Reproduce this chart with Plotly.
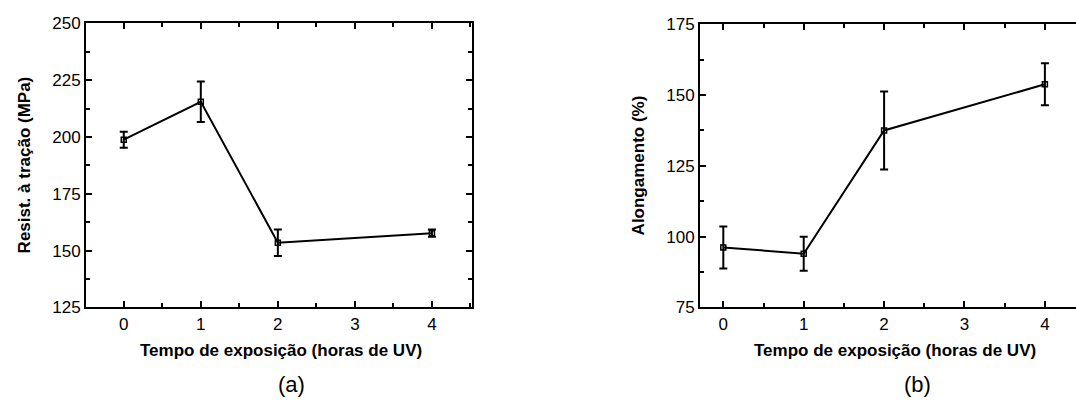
import plotly.graph_objects as go

# Data
hours = [0, 1, 2, 4]
tensile = [198.8, 215.5, 153.5, 157.7]
tensile_err = [3.5, 8.9, 5.8, 1.6]
elong = [96.2, 94.0, 137.5, 153.8]
elong_err = [7.4, 6.0, 13.8, 7.4]

x_title = "Tempo de exposição (horas de UV)"
y1_title = "Resist. à tração (MPa)"
y2_title = "Alongamento (%)"

FONT = "Liberation Sans, Arial, sans-serif"
W, H = 1076, 410

def px_x(p):
    return p / W

def px_y(p):
    return 1 - p / H

fig = go.Figure()

common_trace = dict(
    mode="lines+markers",
    line=dict(color="black", width=2),
    marker=dict(symbol="square-open", size=5, color="black", line=dict(width=1.5, color="black")),
    showlegend=False,
)

fig.add_trace(go.Scatter(
    x=hours, y=tensile,
    error_y=dict(type="data", array=tensile_err, visible=True, color="black", thickness=2, width=4),
    xaxis="x", yaxis="y", **common_trace))

fig.add_trace(go.Scatter(
    x=hours, y=elong,
    error_y=dict(type="data", array=elong_err, visible=True, color="black", thickness=2, width=4),
    xaxis="x2", yaxis="y2", **common_trace))

axis_common = dict(
    showgrid=False, zeroline=False,
    showline=True, linecolor="black", linewidth=2,
    ticks="inside", ticklen=6, tickwidth=2, tickcolor="black",
    tickfont=dict(family=FONT, size=17, color="black"),
)

fig.update_layout(
    width=W, height=H,
    margin=dict(l=0, r=0, t=0, b=0),
    paper_bgcolor="white", plot_bgcolor="white",
    xaxis=dict(domain=[px_x(86), px_x(472)], range=[-0.49, 4.52], dtick=1, tick0=0,
               mirror="ticks", anchor="y",
               minor=dict(ticks="inside", ticklen=4, dtick=0.5, tick0=0, tickwidth=2, tickcolor="black"),
               **axis_common),
    yaxis=dict(domain=[px_y(313), px_y(15)], range=[125, 250], dtick=25, tick0=0,
               mirror="ticks", anchor="x",
               minor=dict(ticks="inside", ticklen=4, dtick=12.5, tick0=0, tickwidth=2, tickcolor="black"),
               **axis_common),
    xaxis2=dict(domain=[px_x(700), 1.0], range=[-0.29, 4.387], dtick=1, tick0=0,
                mirror="ticks", anchor="y2",
                minor=dict(ticks="inside", ticklen=4, dtick=0.5, tick0=0, tickwidth=2, tickcolor="black"),
                **axis_common),
    yaxis2=dict(domain=[px_y(313), px_y(16)], range=[75, 175], dtick=25, tick0=0,
                mirror=False, anchor="x2",
                minor=dict(ticks="inside", ticklen=4, dtick=12.5, tick0=0, tickwidth=2, tickcolor="black"),
                **axis_common),
)

title_font = dict(family=FONT, size=17, color="black", weight="bold")
label_font = dict(family=FONT, size=22, color="black")

annotations = [
    dict(text=x_title, x=px_x(281), y=px_y(358), xref="paper", yref="paper",
         showarrow=False, xanchor="center", yanchor="middle", font=title_font),
    dict(text=x_title, x=px_x(895), y=px_y(358), xref="paper", yref="paper",
         showarrow=False, xanchor="center", yanchor="middle", font=title_font),
    dict(text=y1_title, x=px_x(24), y=px_y(164), xref="paper", yref="paper", textangle=-90,
         showarrow=False, xanchor="center", yanchor="middle", font=title_font),
    dict(text=y2_title, x=px_x(638), y=px_y(164), xref="paper", yref="paper", textangle=-90,
         showarrow=False, xanchor="center", yanchor="middle", font=title_font),
    dict(text="(a)", x=px_x(291), y=px_y(394), xref="paper", yref="paper",
         showarrow=False, xanchor="center", yanchor="middle", font=label_font),
    dict(text="(b)", x=px_x(917), y=px_y(394), xref="paper", yref="paper",
         showarrow=False, xanchor="center", yanchor="middle", font=label_font),
]
fig.update_layout(annotations=annotations)

fig.write_html(
    "out.html",
    config={"displayModeBar": False},
    post_script="document.body.style.margin='0';document.body.style.overflow='hidden';",
)
